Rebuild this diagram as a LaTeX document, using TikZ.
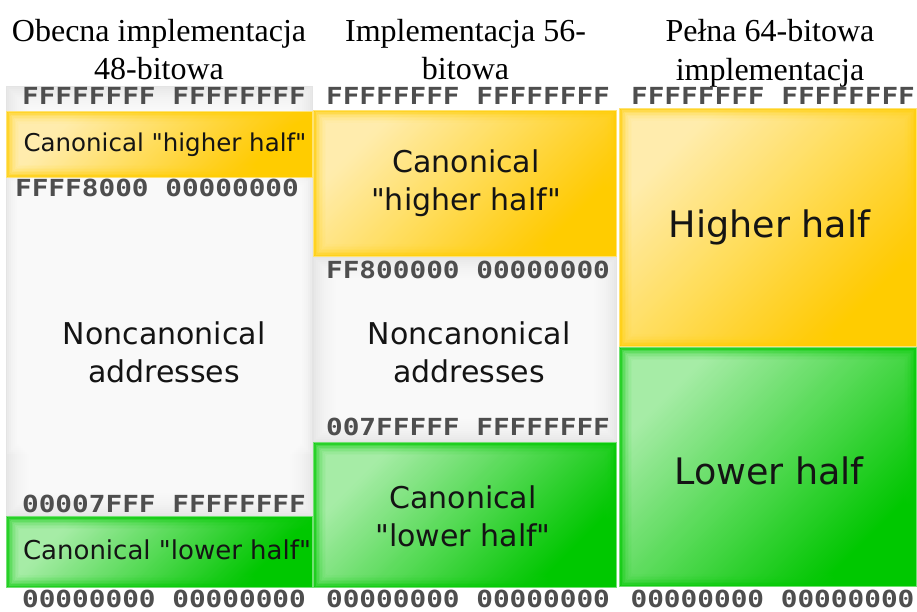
\documentclass[tikz,border=0pt]{standalone}
\usepackage{fontspec}
\setmainfont{Liberation Serif}
\newfontfamily\labelfont{DejaVu Sans}
\newfontfamily\addrfont{DejaVu Sans Mono}

\definecolor{ydark}{HTML}{FFCC00}
\definecolor{ylight}{HTML}{FFF3C4}
\definecolor{gdark}{HTML}{00C800}
\definecolor{glight}{HTML}{BDF3BD}
\definecolor{panelgray}{HTML}{E4E4E4}
\definecolor{addrgray}{HTML}{4E4E4E}

% glossy block: #1,#2 top-left, #3,#4 bottom-right, #5 base colour, #6 highlight
\newcommand\glossyblock[6]{%
  \fill[#5] (#1,#2) rectangle (#3,#4);
  \foreach \k in {1.5,3,...,13.5}{%
    \shade[fill opacity=0.22, top color=#6, middle color=#6!45!#5, bottom color=#5, shading angle=45]
      ({#1+\k},{#2+\k}) rectangle ({#3-\k},{#4-\k});
  }%
  \draw[white, opacity=0.45, line width=0.8pt] (#1+0.5,#2+0.5) rectangle (#3-0.5,#4-0.5);
}
% soft white glow, brightest in the middle of the given rectangle
\newcommand\whiteglow[4]{%
  \foreach \k in {1,3,...,23}{%
    \fill[white, fill opacity=0.15] ({#1+\k},{#2+\k}) rectangle ({#3-\k},{#4-\k});
  }%
}
% soft grey panel with a white glow towards its middle
\newcommand\softpanel[4]{%
  \fill[panelgray] (#1,#2) rectangle (#3,#4);
  \whiteglow{#1}{#2}{#3}{#4}%
}

\tikzset{
  addr/.style={anchor=base, inner sep=0pt, text=addrgray,
    font=\addrfont\bfseries\fontsize{23.5}{28}\selectfont},
  lbl/.style={inner sep=0pt, align=center, text=black!92},
  lblbig/.style={lbl, anchor=base, font=\labelfont\fontsize{36.5}{44}\selectfont},
  lblmid/.style={lbl, anchor=center, font=\labelfont\fontsize{30}{38}\selectfont},
  title/.style={inner sep=0pt, align=center, anchor=center,
    font=\fontsize{32}{38.3}\selectfont},
}
\newcommand\hexaddr[1]{\scalebox{1.18}[1]{#1}}

\begin{document}
\begin{tikzpicture}[x=1pt,y=-1pt]
  \useasboundingbox (0,0) rectangle (917,612);
  \fill[white] (0,0) rectangle (917,612);

  % ---- 48-bit column ----
  \softpanel{6}{86}{313}{516}
  \whiteglow{6}{176}{313}{455}
  \glossyblock{6}{111}{313}{178}{ydark}{ylight}
  \glossyblock{6}{516}{313}{588}{gdark}{glight}

  % ---- 56-bit column ----
  \softpanel{313}{257}{617}{442}
  \glossyblock{313}{110}{617}{257}{ydark}{ylight}
  \glossyblock{313}{442}{617}{588}{gdark}{glight}

  % ---- full 64-bit column ----
  \glossyblock{619}{108}{917}{347}{ydark}{ylight}
  \glossyblock{619}{347}{917}{587}{gdark}{glight}

  % titles
  \node[title] (t48) at (159,49.9) {Obecna implementacja\\48-bitowa};
  \node[title] (t56) at (465.5,49.9) {Implementacja 56-\\bitowa};
  \node[title] (t64) at (770,53.4) {Pełna 64-bitowa\\implementacja};

  % region labels
  \node[lbl, anchor=base, font=\labelfont\fontsize{24.5}{30}\selectfont] (hi48) at (165,151.7) {Canonical "higher half"};
  \node[lblmid] (nc48) at (164,352) {Noncanonical\\addresses};
  \node[lbl, anchor=base, font=\labelfont\fontsize{26}{30}\selectfont] (lo48) at (167,559.3) {Canonical "lower half"};

  \node[lblmid] (hi56) at (466,183) {Canonical\\"higher half"};
  \node[lblmid] (nc56) at (469,352) {Noncanonical\\addresses};
  \node[lblmid] (lo56) at (463,516) {Canonical\\"lower half"};

  \node[lblbig] (hi64) at (769.5,237) {Higher half};
  \node[lblbig] (lo64) at (769,484) {Lower half};

  % boundary addresses
  \node[addr] (a48top) at (164,105) {\hexaddr{FFFFFFFF FFFFFFFF}};
  \node[addr] (a48hi)  at (157,196.5) {\hexaddr{FFFF8000 00000000}};
  \node[addr] (a48lo)  at (164,512.5) {\hexaddr{00007FFF FFFFFFFF}};
  \node[addr] (a48bot) at (164,607.5) {\hexaddr{00000000 00000000}};

  \node[addr] (a56top) at (468,105) {\hexaddr{FFFFFFFF FFFFFFFF}};
  \node[addr] (a56hi)  at (468,278.3) {\hexaddr{FF800000 00000000}};
  \node[addr] (a56lo)  at (468,435) {\hexaddr{007FFFFF FFFFFFFF}};
  \node[addr] (a56bot) at (468,607.5) {\hexaddr{00000000 00000000}};

  \node[addr] (a64top) at (773,105) {\hexaddr{FFFFFFFF FFFFFFFF}};
  \node[addr] (a64bot) at (772.5,607.5) {\hexaddr{00000000 00000000}};
\end{tikzpicture}
\end{document}
